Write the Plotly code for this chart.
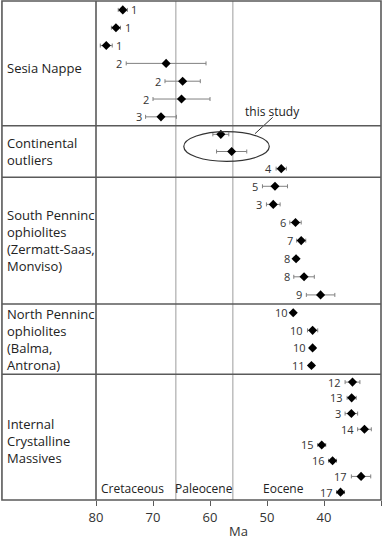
import plotly.graph_objects as go

# ---------------- data ----------------
panel_labels = [
    "Sesia Nappe",
    "Continental<br>outliers",
    "South Penninc<br>ophiolites<br>(Zermatt-Saas,<br>Monviso)",
    "North Penninc<br>ophiolites<br>(Balma,<br>Antrona)",
    "Internal<br>Crystalline<br>Massives",
]

sesia_age = [75.3, 76.5, 78.2, 67.7, 64.8, 65.0, 68.6]
sesia_err = [0.8, 0.8, 1.05, 7.0, 3.1, 5.0, 2.7]
sesia_ref = ["1", "1", "1", "2", "2", "2", "3"]

cont_age = [58.1, 56.2, 47.5]
cont_err = [1.4, 2.65, 0.9]
cont_ref = ["", "", "4"]

spo_age = [48.6, 48.9, 45.0, 44.0, 44.9, 43.5, 40.6]
spo_err = [2.2, 1.2, 1.0, 0.8, 0.4, 1.8, 2.5]
spo_ref = ["5", "3", "6", "7", "8", "8", "9"]

npo_age = [45.4, 42.0, 42.0, 42.2]
npo_err = [0.3, 0.9, 0.4, 0.4]
npo_ref = ["10", "10", "10", "11"]

icm_age = [35.0, 35.15, 35.2, 32.9, 40.4, 38.5, 33.5, 37.1]
icm_err = [1.3, 0.8, 1.1, 1.2, 0.7, 0.7, 1.7, 0.7]
icm_ref = ["12", "13", "3", "14", "15", "16", "17", "17"]

period_names = ["Cretaceous", "Paleocene", "Eocene"]
period_label_x = [73.6, 61.1, 47.1]
period_bounds = [66.0, 56.0]

x_ticks = [80, 70, 60, 50, 40, 30]

# ---------------- layout helpers ----------------
# y axis runs in pixel-like units from top (1) to bottom (505)
panel_edges = [1, 127, 179, 307, 378, 505]
label_right = [True, True, True] + [False] * 4  # first three Sesia labels sit right

groups = [
    (sesia_age, sesia_err, sesia_ref),
    (cont_age, cont_err, cont_ref),
    (spo_age, spo_err, spo_ref),
    (npo_age, npo_err, npo_ref),
    (icm_age, icm_err, icm_ref),
]

fig = go.Figure()
annotations = []
FONT = "Open Sans"
TXT = "#333333"
LINE = "#5a5a5a"

for gi, (ages, errs, refs) in enumerate(groups):
    top, bot = panel_edges[gi], panel_edges[gi + 1]
    n = len(ages)
    step = (bot - top) / n
    ys = [top + (i + 0.5) * step for i in range(n)]
    fig.add_trace(go.Scatter(
        x=ages, y=ys, mode="markers",
        marker=dict(symbol="diamond", size=7, color="black"),
        error_x=dict(type="data", array=errs, visible=True,
                     color="#808080", thickness=1, width=2),
        showlegend=False, hoverinfo="x",
    ))
    for i, (a, e, r) in enumerate(zip(ages, errs, refs)):
        if not r:
            continue
        right = gi == 0 and label_right[i]
        common = dict(y=ys[i], text=r, xref="x", yref="y", yanchor="middle",
                      showarrow=False, borderpad=0,
                      font=dict(size=11, color=TXT, family=FONT))
        if right:
            annotations.append(dict(x=a - e, xanchor="left", xshift=3, **common))
        else:
            annotations.append(dict(x=a + e, xanchor="right", xshift=-3, **common))

# panel labels
label_centers = [69, 153.5, 242.5, 343, 445.5]
for lab, yc in zip(panel_labels, label_centers):
    annotations.append(dict(x=-0.318, y=yc, xref="paper", yref="y", text=lab,
                            xanchor="left", yanchor="middle", align="left",
                            showarrow=False, font=dict(size=13, color="#222", family=FONT)))

# period labels
for name, px in zip(period_names, period_label_x):
    annotations.append(dict(x=px, y=493, xref="x", yref="y", text=name,
                            xanchor="center", yanchor="middle", showarrow=False,
                            font=dict(size=12, color="#222", family=FONT)))

# "this study"
annotations.append(dict(x=49.1, y=112.5, xref="x", yref="y", text="this study",
                        xanchor="center", yanchor="middle", showarrow=False,
                        font=dict(size=12, color="#222", family=FONT)))

shapes = []
# period boundary lines
for b in period_bounds:
    shapes.append(dict(type="line", xref="x", yref="paper", x0=b, x1=b, y0=0, y1=1,
                       line=dict(color="#bdbdbd", width=1.5), layer="below"))
# ellipse and pointer
shapes.append(dict(type="circle", xref="x", yref="y", x0=64.6, x1=49.6, y0=133, y1=163,
                   line=dict(color="#333", width=1.2)))
shapes.append(dict(type="line", xref="x", yref="y", x0=52.1, x1=49.0, y0=135, y1=118.5,
                   line=dict(color="#333", width=1)))
# frame
LEFT = -0.33
shapes.append(dict(type="rect", xref="paper", yref="paper", x0=LEFT, x1=1, y0=0, y1=1,
                   line=dict(color=LINE, width=1.6)))
shapes.append(dict(type="line", xref="paper", yref="paper", x0=0, x1=0, y0=0, y1=1,
                   line=dict(color=LINE, width=1.6)))
for e in panel_edges[1:-1]:
    shapes.append(dict(type="line", xref="paper", yref="y", x0=LEFT, x1=1, y0=e, y1=e,
                       line=dict(color=LINE, width=1.6)))

fig.update_layout(
    width=387, height=540,
    margin=dict(l=96, r=6, t=1, b=35),
    paper_bgcolor="white", plot_bgcolor="white",
    xaxis=dict(range=[80, 30], tickvals=x_ticks, ticks="outside", ticklen=5,
               tickcolor=LINE, showgrid=False, zeroline=False, showline=False,
               tickfont=dict(size=13, color=TXT, family=FONT),
               title=dict(text="Ma", font=dict(size=13, color=TXT, family=FONT), standoff=4)),
    yaxis=dict(range=[505, 1], showticklabels=False, showgrid=False, zeroline=False,
               showline=False, ticks=""),
    shapes=shapes, annotations=annotations,
)

fig.write_html("out.html", config={"displayModeBar": False},
               post_script="document.body.style.margin='0';document.body.style.overflow='hidden';")
